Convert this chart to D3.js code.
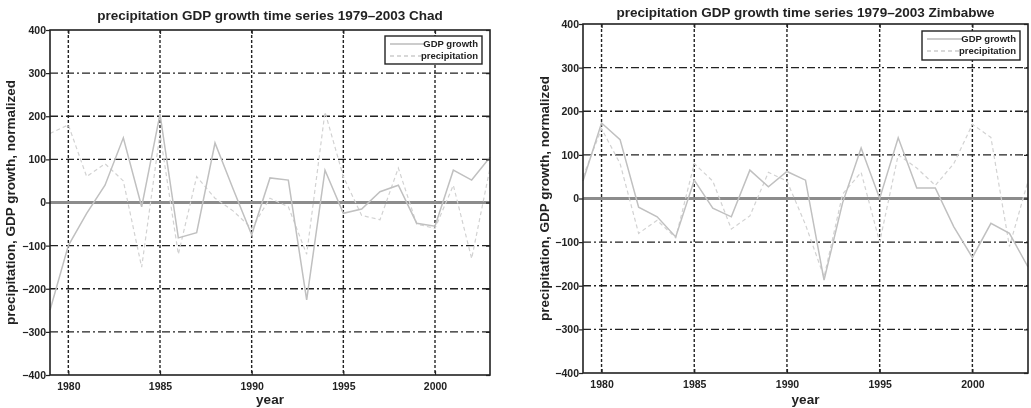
<!DOCTYPE html>
<html>
<head>
	<meta charset="utf-8">
	<title>precipitation GDP growth time series</title>
	<style>
		body { margin: 0; background: #fff; }
		text { font-family: "Liberation Sans", Arial, sans-serif; font-weight: bold; fill: #222; }
	</style>
</head>
<script src="https://d3js.org/d3.v7.min.js"></script>
<body>

<div id="viz"></div>

<script>

// years on the x axis
var years = [1979, 1980, 1981, 1982, 1983, 1984, 1985, 1986, 1987, 1988, 1989, 1990,
	1991, 1992, 1993, 1994, 1995, 1996, 1997, 1998, 1999, 2000, 2001, 2002, 2003];

// Chad (normalized)
var chadGdp = [-250, -100, -25, 40, 150, -10, 205, -82, -70, 138, 30, -75,
	57, 52, -226, 75, -25, -15, 25, 40, -48, -55, 75, 52, 105];
var chadPrecip = [160, 180, 60, 90, 50, -150, 160, -120, 60, 10, -20, -60,
	10, -10, -120, 210, 60, -30, -40, 80, -50, -60, 40, -130, 80];

// Zimbabwe
var zimGdp = [40, 173, 135, -20, -42, -88, 42, -22, -42, 65, 27, 62,
	42, -187, -10, 116, 0, 139, 24, 24, -65, -135, -57, -80, -157];
var zimPrecip = [50, 160, 80, -80, -50, -90, 80, 40, -70, -40, 60, 40,
	-60, -180, 10, 60, -100, 100, 70, 30, 80, 170, 140, -110, 40];

var yTicks = [-400, -300, -200, -100, 0, 100, 200, 300, 400];
var xTicks = [1980, 1985, 1990, 1995, 2000];

var panels = [
	{ title: "precipitation GDP growth time series 1979\u20132003 Chad", gdp: chadGdp, precip: chadPrecip,
	  left: 50, right: 490, top: 30, bottom: 375, titleY: 20, labX: 15, leg: { x: 385, y: 36, w: 97, h: 28 } },
	{ title: "precipitation GDP growth time series 1979\u20132003 Zimbabwe", gdp: zimGdp, precip: zimPrecip,
	  left: 583, right: 1028, top: 24, bottom: 373, titleY: 17, labX: 549, leg: { x: 922, y: 31, w: 98, h: 29 } }
];

var svg = d3.select("#viz")
	.append("svg")
		.attr("width", 1031)
		.attr("height", 408);

svg.append("defs").append("filter")
	.attr("id", "soft")
	.append("feGaussianBlur")
	.attr("stdDeviation", 0.45);

var root = svg.append("g").attr("filter", "url(#soft)");

panels.forEach(function(p) {
	var g = root.append("g");

	var x = d3.scaleLinear().domain([1979, 2003]).range([p.left, p.right]);
	var y = d3.scaleLinear().domain([-400, 400]).range([p.bottom, p.top]);

	// grid
	g.selectAll(".vgrid").data(xTicks).enter().append("line")
		.attr("x1", function(d) { return x(d); }).attr("x2", function(d) { return x(d); })
		.attr("y1", p.top).attr("y2", p.bottom)
		.attr("stroke", "#222").attr("stroke-width", 1.4)
		.attr("stroke-dasharray", "3,2");
	g.selectAll(".hgrid").data(yTicks.slice(1, -1)).enter().append("line")
		.attr("x1", p.left).attr("x2", p.right)
		.attr("y1", function(d) { return y(d); }).attr("y2", function(d) { return y(d); })
		.attr("stroke", "#222").attr("stroke-width", 1.4)
		.attr("stroke-dasharray", "8,3,2,3");

	// zero line
	g.append("line")
		.attr("x1", p.left).attr("x2", p.right)
		.attr("y1", y(0)).attr("y2", y(0))
		.attr("stroke", "#8c8c8c").attr("stroke-width", 3);

	var line = d3.line()
		.x(function(d, i) { return x(years[i]); })
		.y(function(d) { return y(d); });

	g.append("path").datum(p.precip)
		.attr("fill", "none").attr("stroke", "#d2d2d2").attr("stroke-width", 1.2)
		.attr("stroke-dasharray", "4,3")
		.attr("d", line);
	g.append("path").datum(p.gdp)
		.attr("fill", "none").attr("stroke", "#c0c0c0").attr("stroke-width", 1.5)
		.attr("d", line);

	// axes, ticks inside like the original
	var xb = d3.axisBottom(x).tickValues(xTicks).tickSize(-4).tickPadding(8).tickFormat(d3.format("d"));
	var xt = d3.axisTop(x).tickValues(xTicks).tickSize(-4).tickFormat("");
	var yl = d3.axisLeft(y).tickValues(yTicks).tickSize(4).tickPadding(0).tickFormat(d3.format("d"));
	var yr = d3.axisRight(y).tickValues(yTicks).tickSize(-4).tickFormat("");

	[g.append("g").attr("transform", "translate(0," + p.bottom + ")").call(xb),
	 g.append("g").attr("transform", "translate(0," + p.top + ")").call(xt),
	 g.append("g").attr("transform", "translate(" + p.left + ",0)").call(yl),
	 g.append("g").attr("transform", "translate(" + p.right + ",0)").call(yr)
	].forEach(function(a) {
		a.select(".domain").remove();
		a.selectAll("line").attr("stroke", "#222").attr("stroke-width", 1.2);
		a.selectAll("text").attr("font-size", 10.5).style("font-weight", "bold").attr("fill", "#222");
	});

	// box
	g.append("rect")
		.attr("x", p.left).attr("y", p.top)
		.attr("width", p.right - p.left).attr("height", p.bottom - p.top)
		.attr("fill", "none").attr("stroke", "#222").attr("stroke-width", 1.6);

	// labels
	g.append("text")
		.attr("x", (p.left + p.right) / 2).attr("y", p.titleY)
		.attr("text-anchor", "middle").attr("font-size", 13.5)
		.text(p.title);
	g.append("text")
		.attr("x", (p.left + p.right) / 2).attr("y", 404)
		.attr("text-anchor", "middle").attr("font-size", 13.5)
		.text("year");
	g.append("text")
		.attr("transform", "translate(" + p.labX + "," + ((p.top + p.bottom) / 2) + ") rotate(-90)")
		.attr("text-anchor", "middle").attr("font-size", 13.5)
		.text("precipitation, GDP growth, normalized");

	// legend
	var lg = g.append("g").attr("transform", "translate(" + p.leg.x + "," + p.leg.y + ")");
	lg.append("rect")
		.attr("width", p.leg.w).attr("height", p.leg.h)
		.attr("fill", "#fff").attr("stroke", "#222").attr("stroke-width", 1.4);
	var items = [{ name: "GDP growth", dash: null, color: "#bbb" },
	             { name: "precipitation", dash: "4,3", color: "#ccc" }];
	items.forEach(function(it, i) {
		var ry = 8 + i * 12;
		lg.append("line")
			.attr("x1", 5).attr("x2", 40).attr("y1", ry).attr("y2", ry)
			.attr("stroke", it.color).attr("stroke-width", 1.3)
			.attr("stroke-dasharray", it.dash);
		lg.append("text")
			.attr("x", p.leg.w - 4).attr("y", ry + 3)
			.attr("text-anchor", "end").attr("font-size", 9.5)
			.text(it.name);
	});
});

</script>

</body>
</html>
